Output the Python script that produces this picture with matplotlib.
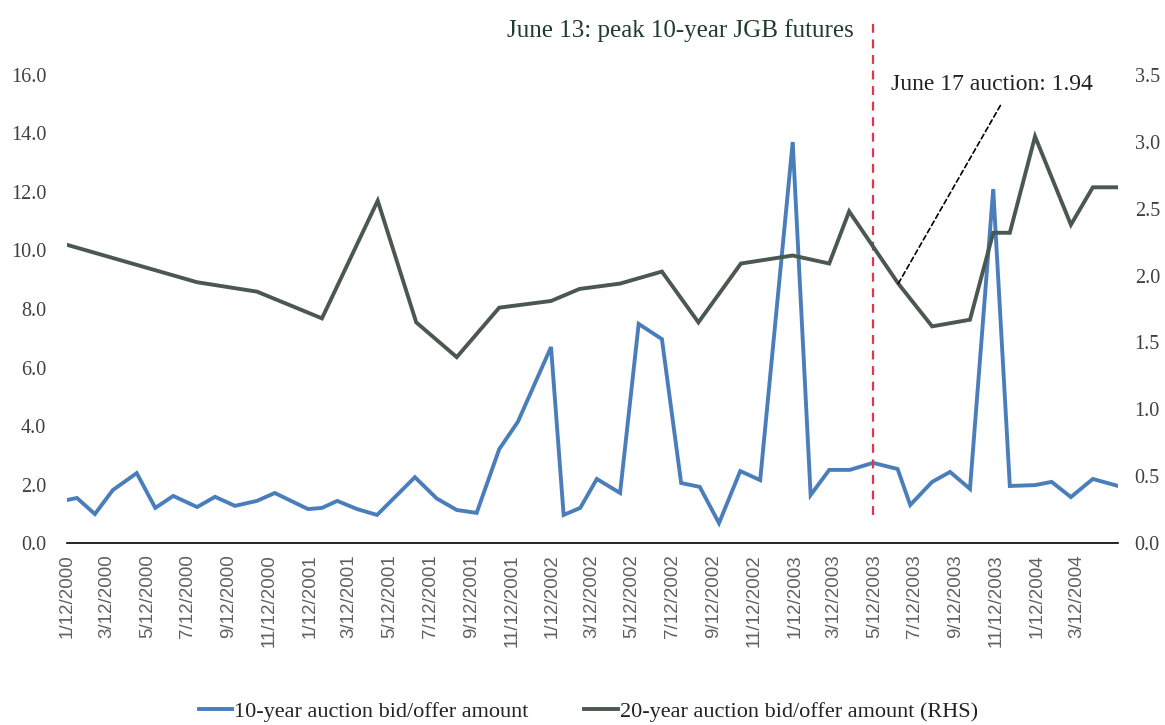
import matplotlib
matplotlib.use("Agg")
import matplotlib.pyplot as plt
import matplotlib.dates as mdates
import pandas as pd

# ---- data ----
dates_10y = ["2000-01-12", "2000-01-27", "2000-02-23", "2000-03-21", "2000-04-26", "2000-05-24",
             "2000-06-20", "2000-07-26", "2000-08-22", "2000-09-21", "2000-10-24", "2000-11-20",
             "2001-01-09", "2001-01-30", "2001-02-22", "2001-03-24", "2001-04-23", "2001-06-19",
             "2001-07-22", "2001-08-21", "2001-09-20", "2001-10-24", "2001-11-21", "2002-01-10",
             "2002-01-29", "2002-02-23", "2002-03-20", "2002-04-24", "2002-05-22", "2002-06-26",
             "2002-07-25", "2002-08-22", "2002-09-20", "2002-10-22", "2002-11-21", "2003-01-09",
             "2003-02-05", "2003-03-05", "2003-04-05", "2003-05-10", "2003-06-16", "2003-07-05",
             "2003-08-07", "2003-09-03", "2003-10-03", "2003-11-07", "2003-12-02", "2004-01-09",
             "2004-02-03", "2004-03-03", "2004-04-05", "2004-05-13"]
values_10y = [1.47, 1.54, 0.99, 1.81, 2.39, 1.20, 1.61, 1.23, 1.58, 1.27, 1.44, 1.71,
              1.16, 1.20, 1.44, 1.16, 0.96, 2.25, 1.52, 1.13, 1.03, 3.21, 4.14, 6.70,
              0.96, 1.20, 2.19, 1.71, 7.49, 6.97, 2.05, 1.92, 0.68, 2.46, 2.15, 13.71,
              1.64, 2.50, 2.50, 2.74, 2.53, 1.30, 2.09, 2.43, 1.85, 12.10, 1.95, 1.98,
              2.09, 1.57, 2.19, 1.95]

dates_20y = ["2000-01-12", "2000-07-26", "2000-10-24", "2001-01-30", "2001-04-24", "2001-06-21",
             "2001-08-21", "2001-10-24", "2002-01-10", "2002-02-22", "2002-04-24", "2002-06-26",
             "2002-08-20", "2002-10-23", "2003-01-09", "2003-03-05", "2003-04-04", "2003-06-17",
             "2003-08-07", "2003-10-03", "2003-11-07", "2003-12-02", "2004-01-09", "2004-03-03",
             "2004-04-05", "2004-05-13"]
values_20y = [2.23, 1.95, 1.88, 1.68, 2.56, 1.65, 1.39, 1.76, 1.81, 1.90, 1.94, 2.03,
              1.65, 2.09, 2.15, 2.09, 2.48, 1.94, 1.62, 1.67, 2.32, 2.32, 3.04, 2.38,
              2.66, 2.66]

peak_date = "2003-05-10"
auction_date = "2003-06-17"
auction_value = 1.94

label_10y = "10-year auction bid/offer amount"
label_20y = "20-year auction bid/offer amount (RHS)"
peak_text = "June 13: peak 10-year JGB futures"
auction_text = "June 17 auction: 1.94"

left_ticks = [0, 2, 4, 6, 8, 10, 12, 14, 16]
right_ticks = [0, 0.5, 1.0, 1.5, 2.0, 2.5, 3.0, 3.5]
x_tick_dates = pd.date_range("2000-01-01", "2004-03-01", freq="2MS") + pd.Timedelta(days=11)

# ---- plot ----
serif = ["Liberation Serif", "DejaVu Serif"]
fig = plt.figure(figsize=(11.65, 7.25), dpi=100)
ax = fig.add_axes([0.0575, 0.251, 0.9022, 0.6456])
ax2 = ax.twinx()

x10 = pd.to_datetime(dates_10y)
x20 = pd.to_datetime(dates_20y)

blue = "#4a7ebb"
gray = "#4a5850"
l1, = ax.plot(x10, values_10y, color=blue, lw=2.8, solid_joinstyle="miter", zorder=3)
l2, = ax2.plot(x20, values_20y, color=gray, lw=2.8, solid_joinstyle="miter", zorder=3)

ax.set_ylim(0, 16)
ax2.set_ylim(0, 3.5)
ax.set_xlim(pd.Timestamp("2000-01-12"), pd.Timestamp("2004-05-13"))

ax.set_yticks(left_ticks)
ax.set_yticklabels([f"{v:.1f}" for v in left_ticks], fontfamily=serif, fontsize=14.5, color="#404040")
ax2.set_yticks(right_ticks)
ax2.set_yticklabels([f"{v:.1f}" for v in right_ticks], fontfamily=serif, fontsize=14.5, color="#404040")

ax.set_xticks(x_tick_dates)
ax.set_xticklabels([f"{d.month}/{d.day}/{d.year}" for d in x_tick_dates], rotation=90,
                   fontfamily=["Liberation Sans", "DejaVu Sans"], fontsize=13.5, color="#606060")

ax.tick_params(axis="y", length=0, pad=15)
ax2.tick_params(axis="y", length=0, pad=12)
ax.tick_params(axis="x", length=0, pad=8)

for a in (ax, ax2):
    for s in ("left", "right", "top", "bottom"):
        a.spines[s].set_visible(False)
ax.spines["bottom"].set_visible(True)
ax.spines["bottom"].set_color("black")
ax.spines["bottom"].set_linewidth(1.2)

# vertical dashed line
ax.axvline(pd.Timestamp(peak_date), ymin=0.06, ymax=1.113, color="#e8334f", lw=1.6,
           ls=(0, (4, 3)), clip_on=False, zorder=4)

fig.text(0.5837, 0.9586, peak_text, ha="center", va="center", fontfamily=serif,
         fontsize=18, color="#1e3d2f")

ax2.annotate(auction_text, xy=(pd.Timestamp(auction_date), auction_value),
             xytext=(0.8515, 0.8828), textcoords="figure fraction",
             ha="center", va="center", fontfamily=serif, fontsize=17, color="#222222",
             arrowprops=dict(arrowstyle="-", ls=(0, (3, 2)), color="black", lw=1.2,
                             shrinkA=6, shrinkB=0, relpos=(0.57, 0)))

leg = fig.legend([l1, l2], [label_10y, label_20y], loc="center", bbox_to_anchor=(0.505, 0.018),
                 ncol=2, frameon=False, prop={"family": serif, "size": 16},
                 handlelength=1.5, handletextpad=0.1, columnspacing=2.5)
for t in leg.get_texts():
    t.set_color("#222222")

fig.savefig("out.png", dpi=100)
